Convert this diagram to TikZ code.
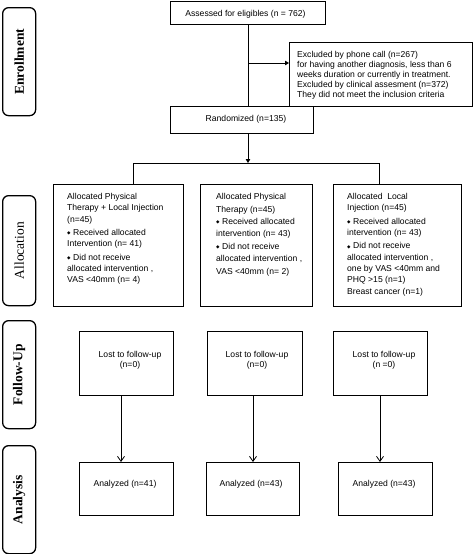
\documentclass[tikz,border=0pt]{standalone}
\usepackage{fontspec}
\setmainfont{Liberation Sans}
\newfontfamily\serifside{Liberation Serif}
\newfontfamily\diafont{DejaVu Sans}
\usetikzlibrary{arrows.meta}
\newcommand{\dia}{{\diafont\fontsize{4.5pt}{5pt}\selectfont\raisebox{0.6pt}{◆}}\hspace{2.5pt}}
\tikzset{
  box/.style={draw, line width=0.8pt, inner sep=0pt, anchor=north west},
  side/.style={draw, line width=1.3pt, rounded corners=6pt, inner sep=0pt, anchor=north west},
  sidetext/.style={rotate=90, font=\serifside\fontsize{13.5pt}{15pt}\selectfont},
  bsidetext/.style={sidetext, font=\serifside\bfseries\fontsize{13.5pt}{15pt}\selectfont},
  txt/.style={inner sep=0pt, align=left, anchor=north west, font=\fontsize{8.6pt}{10pt}\selectfont},
  ctxt/.style={inner sep=0pt, align=center, font=\fontsize{8.6pt}{10pt}\selectfont},
  alloc/.style={inner sep=0pt, align=left, anchor=north west, font=\fontsize{8.6pt}{11.3pt}\selectfont},
  line/.style={line width=0.8pt},
  farrow/.style={line width=0.8pt, -{Triangle[length=4pt,width=4.5pt]}},
  varrow/.style={line width=0.8pt, -{Straight Barb[length=5pt,width=7pt]}}
}
\begin{document}
\begin{tikzpicture}[x=1pt,y=-1pt]
\useasboundingbox (0,0) rectangle (473,554);
% side labels
\node[side, minimum width=33pt, minimum height=108pt] (senr) at (2,7) {};
\node[bsidetext] (tenr) at (senr.center) {Enrollment};
\node[side, minimum width=33pt, minimum height=110pt] (salloc) at (2,195) {};
\node[sidetext] (talloc) at (salloc.center) {Allocation};
\node[side, minimum width=33pt, minimum height=108pt] (sfol) at (2,320) {};
\node[bsidetext] (tfol) at (sfol.center) {Follow-Up};
\node[side, minimum width=33pt, minimum height=108pt] (sana) at (2,445) {};
\node[bsidetext] (tana) at (sana.center) {Analysis};

% enrollment
\node[box, minimum width=155pt, minimum height=23pt] (assess) at (170,1) {};
\node[ctxt] (tassess) at (245.5,14.5) {Assessed for eligibles (n = 762)};
\node[box, minimum width=183pt, minimum height=64pt] (excl) at (289,42) {};
\node[txt] (texcl) at (297,51.3) {Excluded by phone call (n=267)\\for having another diagnosis, less than 6\\weeks duration or currently in treatment.\\Excluded by clinical assesment (n=372)\\They did not meet the inclusion criteria};
\node[box, minimum width=143pt, minimum height=27pt] (rand) at (170,106) {};
\node[ctxt] (trand) at (246,119) {Randomized (n=135)};

\coordinate (split) at (248,63);
\draw[line] (assess.south -| split) -- (rand.north -| split);
\draw[farrow] (split) -- (excl.west |- split);

% allocation
\coordinate (hl) at (133,163);
\coordinate (hr) at (379,163);
\coordinate (hm) at (248,163);
\draw[farrow] (rand.south -| hm) -- (hm);
\draw[line] (hl) -- (hr);

\node[box, minimum width=130pt, minimum height=122pt] (a1) at (53,184) {};
\node[box, minimum width=112pt, minimum height=122pt] (a2) at (200,184) {};
\node[box, minimum width=128pt, minimum height=122pt] (a3) at (333,184) {};
\draw[line] (hl) -- (hl |- a1.north);
\draw[line] (hr) -- (hr |- a3.north);

\node[alloc] (ta1) at (67,193.2) {Allocated Physical\\Therapy + Local Injection\\(n=45)\\[2pt]\dia Received allocated\\Intervention (n= 41)\\[2pt]\dia Did not receive\\allocated intervention ,\\VAS <40mm (n= 4)};
\node[alloc, font=\fontsize{8.6pt}{12.4pt}\selectfont] (ta2) at (216,193.2) {Allocated Physical\\Therapy (n=45)\\\dia Received allocated\\intervention (n= 43)\\\dia Did not receive\\allocated intervention ,\\VAS <40mm (n= 2)};
\node[alloc] (ta3) at (347,193.2) {Allocated\ \ Local\\Injection (n=45)\\[2pt]\dia Received allocated\\intervention (n= 43)\\[2pt]\dia Did not receive\\allocated intervention ,\\one by VAS <40mm and\\PHQ >15 (n=1)\\Breast cancer (n=1)};

% follow-up
\node[box, minimum width=94pt, minimum height=64pt] (f1) at (79,331) {};
\node[box, minimum width=95pt, minimum height=64pt] (f2) at (207,331) {};
\node[box, minimum width=94pt, minimum height=64pt] (f3) at (333,331) {};
\node[ctxt] (tf1) at (130,360) {Lost to follow-up\\(n=0)};
\node[ctxt] (tf2) at (257,360) {Lost to follow-up\\(n=0)};
\node[ctxt] (tf3) at (384,360) {Lost to follow-up\\(n =0)};

% analysis
\node[box, minimum width=94pt, minimum height=53pt] (n1) at (79,462) {};
\node[box, minimum width=93pt, minimum height=53pt] (n2) at (206,462) {};
\node[box, minimum width=94pt, minimum height=53pt] (n3) at (338,462) {};
\node[ctxt] (tn1) at (125,484) {Analyzed (n=41)};
\node[ctxt] (tn2) at (251,484) {Analyzed (n=43)};
\node[ctxt] (tn3) at (384,484) {Analyzed (n=43)};

\coordinate (c1) at (121,0);
\coordinate (c2) at (253,0);
\coordinate (c3) at (380,0);
\draw[varrow] (f1.south -| c1) -- (n1.north -| c1);
\draw[varrow] (f2.south -| c2) -- (n2.north -| c2);
\draw[varrow] (f3.south -| c3) -- (n3.north -| c3);
\end{tikzpicture}
\end{document}
